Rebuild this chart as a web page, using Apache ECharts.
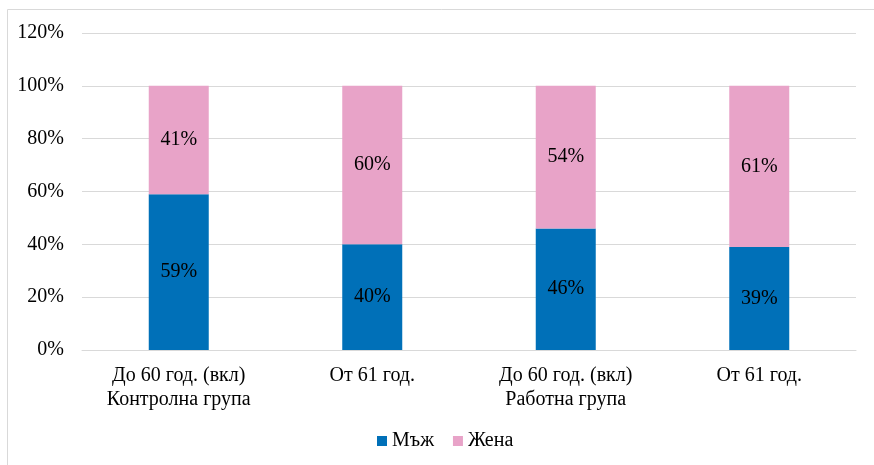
<!DOCTYPE html>
<html>
<head>
<meta charset="utf-8">
<script src="https://cdn.jsdelivr.net/npm/echarts@6/dist/echarts.min.js"></script>
<style>
  html, body { margin: 0; padding: 0; background: #fff; }
  #chart { width: 874px; height: 465px; }
</style>
</head>
<body>
<div id="chart"></div>
<script>
// Age groups per study group
const categories = [
  'До 60 год. (вкл)\nКонтролна група',
  'От 61 год.',
  'До 60 год. (вкл)\nРаботна група',
  'От 61 год.'
];
const seriesNames = ['Мъж', 'Жена'];
const maleValues = [59, 40, 46, 39];
const femaleValues = [41, 60, 54, 61];
const yTicks = [0, 20, 40, 60, 80, 100, 120];

const FONT = '"Liberation Serif", "Times New Roman", serif';
const FS = 20;
const chart = echarts.init(document.getElementById('chart'));

const labelStyle = {
  show: true,
  position: 'inside',
  color: '#000',
  fontFamily: FONT,
  fontSize: FS,
  formatter: p => p.value + '%'
};

chart.setOption({
  animation: false,
  textStyle: { fontFamily: FONT },
  graphic: [{
    type: 'rect',
    shape: { x: 7.5, y: 9.5, width: 880, height: 470 },
    style: { fill: 'none', stroke: '#d9d9d9', lineWidth: 1 }
  }],
  grid: { left: 82, right: 18, top: 33, bottom: 115, containLabel: false },
  legend: {
    bottom: 9,
    left: 372,
    itemWidth: 10,
    itemHeight: 10,
    itemGap: 19,
    icon: 'rect',
    textStyle: { fontFamily: FONT, fontSize: FS, color: '#000' },
    data: seriesNames
  },
  xAxis: {
    type: 'category',
    data: categories,
    axisLine: { show: true, lineStyle: { color: '#d9d9d9', width: 1 } },
    axisTick: { show: false },
    axisLabel: {
      color: '#000',
      fontFamily: FONT,
      fontSize: FS,
      lineHeight: 24,
      margin: 14,
      interval: 0
    }
  },
  yAxis: {
    type: 'value',
    min: yTicks[0],
    max: yTicks[yTicks.length - 1],
    interval: 20,
    axisLine: { show: false },
    axisTick: { show: false },
    splitLine: { lineStyle: { color: '#d9d9d9', width: 1 } },
    axisLabel: {
      color: '#000',
      fontFamily: FONT,
      fontSize: FS,
      margin: 18,
      formatter: v => v + '%'
    }
  },
  series: [
    {
      name: seriesNames[0],
      type: 'bar',
      stack: 'total',
      barWidth: 60,
      data: maleValues,
      itemStyle: { color: '#0070B8' },
      label: labelStyle
    },
    {
      name: seriesNames[1],
      type: 'bar',
      stack: 'total',
      barWidth: 60,
      data: femaleValues,
      itemStyle: { color: '#E8A3C8' },
      label: labelStyle
    }
  ]
});
</script>
</body>
</html>
